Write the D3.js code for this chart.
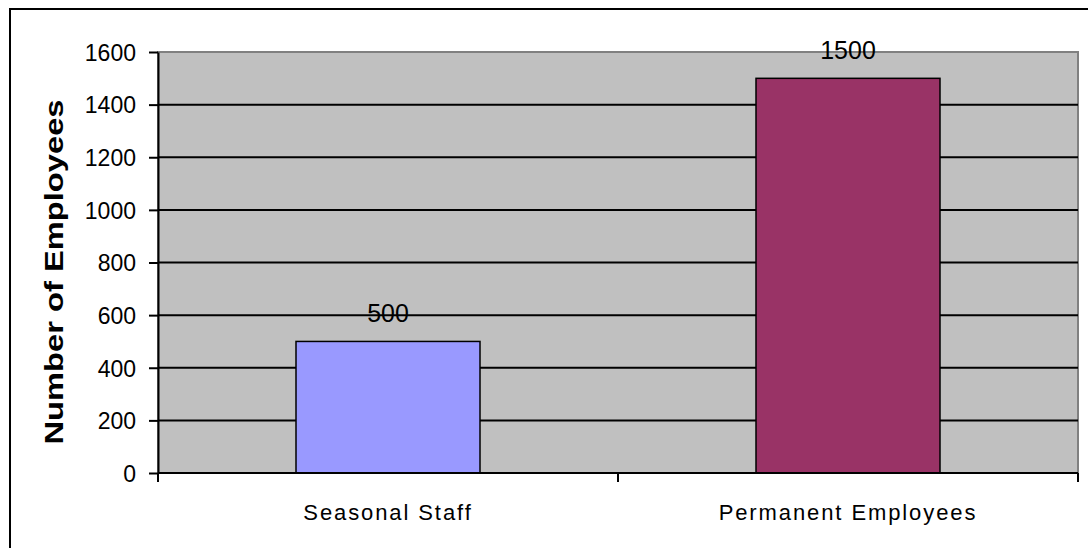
<!DOCTYPE html>
<html>
<head>
<meta charset="utf-8">
<script src="https://cdn.jsdelivr.net/npm/d3@7"></script>
<style>
  html, body { margin: 0; padding: 0; background: #fff; }
  svg { display: block; }
  text { font-family: Arial, "Liberation Sans", sans-serif; fill: #000; }
</style>
</head>
<body>
<svg id="chart" width="1088" height="548"></svg>
<script>
// Workforce by employment type
const categories = ["Seasonal Staff", "Permanent Employees"];
const employees = [500, 1500];
const barColors = ["#9999FF", "#993366"];
const yTicks = [0, 200, 400, 600, 800, 1000, 1200, 1400, 1600];

const svg = d3.select("#chart");
const W = 1088, H = 548;
const plot = { left: 158, right: 1078, top: 52, bottom: 473 };

// outer chart frame (extends past the right and bottom edges)
svg.append("rect")
  .attr("x", 10).attr("y", 9)
  .attr("width", W + 20).attr("height", H + 20)
  .attr("fill", "#fff").attr("stroke", "#000").attr("stroke-width", 2);

const x = d3.scaleBand()
  .domain(categories)
  .range([plot.left, plot.right])
  .paddingInner(0.6)
  .paddingOuter(0.3);

const y = d3.scaleLinear()
  .domain([0, 1600])
  .range([plot.bottom, plot.top]);

// plot background
svg.append("rect")
  .attr("x", plot.left).attr("y", plot.top)
  .attr("width", plot.right - plot.left).attr("height", plot.bottom - plot.top)
  .attr("fill", "#C0C0C0")
  .attr("stroke", "#808080").attr("stroke-width", 2);

// horizontal gridlines
svg.append("g")
  .selectAll("line")
  .data(yTicks.filter(d => d > 0 && d < 1600))
  .join("line")
  .attr("x1", plot.left).attr("x2", plot.right)
  .attr("y1", d => y(d)).attr("y2", d => y(d))
  .attr("stroke", "#000").attr("stroke-width", 2);

// bars
svg.append("g")
  .selectAll("rect")
  .data(categories)
  .join("rect")
  .attr("x", d => x(d))
  .attr("width", x.bandwidth())
  .attr("y", (d, i) => y(employees[i]))
  .attr("height", (d, i) => y(0) - y(employees[i]))
  .attr("fill", (d, i) => barColors[i])
  .attr("stroke", "#000").attr("stroke-width", 1.5);

// value labels
svg.append("g")
  .selectAll("text")
  .data(categories)
  .join("text")
  .attr("x", d => x(d) + x.bandwidth() / 2)
  .attr("y", (d, i) => y(employees[i]) - 19)
  .attr("text-anchor", "middle")
  .style("font-size", "25px")
  .text((d, i) => employees[i]);

// y axis
const yAxis = svg.append("g")
  .attr("transform", `translate(${plot.left},0)`)
  .call(d3.axisLeft(y).tickValues(yTicks).tickFormat(d3.format("d"))
    .tickSize(9).tickPadding(13).tickSizeOuter(0));
yAxis.select(".domain").attr("stroke", "#000").attr("stroke-width", 2);
yAxis.selectAll(".tick line").attr("stroke", "#000").attr("stroke-width", 2);
yAxis.selectAll(".tick text")
  .style("font-size", "23px")
  .style("font-family", "Arial, 'Liberation Sans', sans-serif")
  .attr("dy", "0.36em");

// x axis: category boundaries carry the tick marks
const xAxisG = svg.append("g");
xAxisG.append("line")
  .attr("x1", plot.left).attr("x2", plot.right)
  .attr("y1", plot.bottom).attr("y2", plot.bottom)
  .attr("stroke", "#000").attr("stroke-width", 2);
const boundaries = [plot.left, ...categories.slice(1).map(c => x(c) - x.step() * x.paddingInner() / 2), plot.right];
xAxisG.selectAll("line.tick")
  .data(boundaries)
  .join("line")
  .attr("class", "tick")
  .attr("x1", d => d).attr("x2", d => d)
  .attr("y1", plot.bottom).attr("y2", plot.bottom + 9)
  .attr("stroke", "#000").attr("stroke-width", 2);
xAxisG.selectAll("text")
  .data(categories)
  .join("text")
  .attr("x", d => x(d) + x.bandwidth() / 2)
  .attr("y", 520)
  .attr("text-anchor", "middle")
  .style("font-size", "22px")
  .style("letter-spacing", "1.9px")
  .text(d => d);

// y axis title
svg.append("text")
  .attr("transform", `translate(63,272) rotate(-90)`)
  .attr("text-anchor", "middle")
  .attr("textLength", 345)
  .attr("lengthAdjust", "spacingAndGlyphs")
  .style("font-size", "25px")
  .style("font-weight", "bold")
  .text("Number of Employees");
</script>
</body>
</html>
